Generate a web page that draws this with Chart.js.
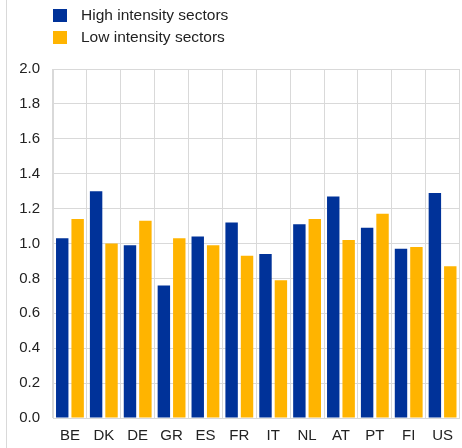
<!DOCTYPE html>
<html><head><meta charset="utf-8">
<script src="https://cdn.jsdelivr.net/npm/chart.js@4/dist/chart.umd.min.js"></script>
<style>
html,body{margin:0;padding:0;background:#fff;}
#wrap{position:relative;width:462px;height:448px;overflow:hidden;}
#frame{position:absolute;left:6px;top:0;width:1px;height:448px;background:#d9d9d9;}
#legend{position:absolute;left:53px;top:4px;font-family:Arial,"Liberation Sans",sans-serif;font-size:15.5px;color:#222;}
.item{display:flex;align-items:center;height:22px;white-space:nowrap;}
.box{width:14px;height:13px;margin-right:14px;flex:none;}
canvas{position:absolute;left:0;top:0;}
</style></head>
<body>
<div id="wrap">
<div id="frame"></div>
<canvas id="c" width="462" height="448"></canvas>
<div id="legend"></div>
</div>
<script>
const categories = ['BE','DK','DE','GR','ES','FR','IT','NL','AT','PT','FI','US'];
const highIntensity = [1.03,1.30,0.99,0.76,1.04,1.12,0.94,1.11,1.27,1.09,0.97,1.29];
const lowIntensity  = [1.14,1.00,1.13,1.03,0.99,0.93,0.79,1.14,1.02,1.17,0.98,0.87];
const seriesLabels = ['High intensity sectors','Low intensity sectors'];
const seriesColors = ['#003299','#FFB400'];
const yMin = 0, yMax = 2, yStep = 0.2;

const font = {family: 'Arial, "Liberation Sans", sans-serif', size: 15};
const gridColor = '#d9d9d9';

const datasets = [highIntensity, lowIntensity].map((d, i) => ({
  label: seriesLabels[i],
  data: d,
  backgroundColor: seriesColors[i],
  borderWidth: 0,
  categoryPercentage: 0.91,
  barPercentage: 0.806
}));

const chart = new Chart(document.getElementById('c'), {
  type: 'bar',
  data: {labels: categories, datasets},
  options: {
    responsive: false,
    animation: false,
    devicePixelRatio: 1,
    layout: {padding: {top: 69, right: 0, bottom: 2, left: 0}},
    plugins: {legend: {display: false}, tooltip: {enabled: false}},
    scales: {
      x: {
        grid: {color: gridColor, drawTicks: false, offset: true},
        border: {color: gridColor},
        ticks: {font, color: '#222', padding: 9},
        afterFit: s => { s.height = 28; }
      },
      y: {
        min: yMin, max: yMax,
        grid: {color: gridColor, drawTicks: false},
        border: {color: gridColor},
        ticks: {font, color: '#222', padding: 13, stepSize: yStep, callback: v => v.toFixed(1)},
        afterFit: s => { s.width = 53; }
      }
    }
  }
});

const leg = document.getElementById('legend');
chart.data.datasets.forEach(ds => {
  const it = document.createElement('div'); it.className = 'item';
  const b = document.createElement('div'); b.className = 'box'; b.style.background = ds.backgroundColor;
  const t = document.createElement('span'); t.textContent = ds.label;
  it.appendChild(b); it.appendChild(t); leg.appendChild(it);
});
</script>
</body></html>
